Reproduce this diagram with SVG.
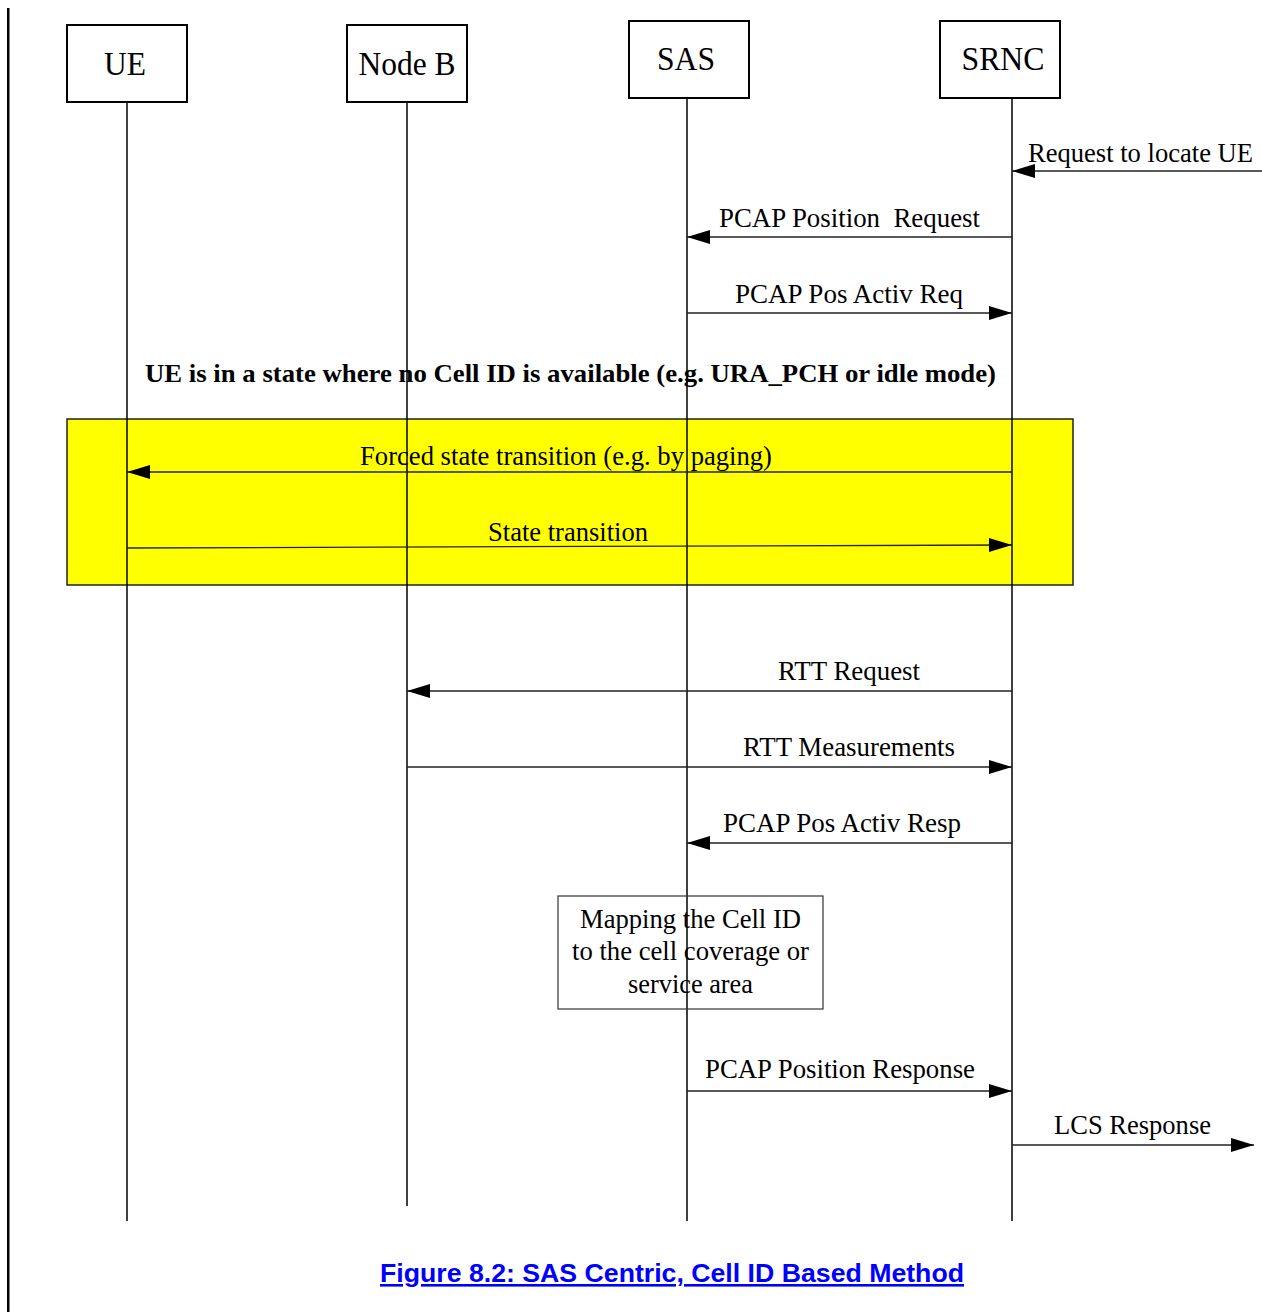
<svg xmlns="http://www.w3.org/2000/svg" width="1262" height="1312" viewBox="0 0 1262 1312">
  <style>
    .box { fill: #ffffff; stroke: #000000; stroke-width: 2; }
    .life { stroke: #000000; stroke-width: 1.5; fill: none; }
    .msg { stroke: #222222; stroke-width: 1.3; fill: none; marker-end: url(#arrow); }
    .lbl { font-family: "Liberation Serif", "Times New Roman", serif; font-size: 33px; fill: #000000; }
    .txt { font-family: "Liberation Serif", "Times New Roman", serif; font-size: 26.5px; fill: #000000; }
    .bold { font-family: "Liberation Serif", "Times New Roman", serif; font-size: 26px; font-weight: bold; fill: #000000; }
    .cap { font-family: "Liberation Sans", Arial, sans-serif; font-size: 26px; font-weight: bold; fill: #0000ff; }
  </style>
  <defs>
    <marker id="arrow" markerUnits="userSpaceOnUse" markerWidth="24" markerHeight="16" refX="23" refY="7" orient="auto">
      <path d="M0,0 L23,7 L0,14 z" fill="#000000"/>
    </marker>
  </defs>

  <rect width="1262" height="1312" fill="#ffffff"/>

  <!-- page margin bar -->
  <rect x="7" y="8" width="2.5" height="1304" fill="#000000"/>

  <!-- highlighted region for the state transition -->
  <rect id="transition-area" x="67" y="419" width="1006" height="166" fill="#ffff00" stroke="#222222" stroke-width="1.5"/>

  <!-- lifelines -->
  <g id="lifelines">
    <line class="life" x1="127" y1="102" x2="127" y2="1221"/>
    <line class="life" x1="407" y1="102" x2="407" y2="1206"/>
    <line class="life" x1="687" y1="98" x2="687" y2="1221"/>
    <line class="life" x1="1012" y1="98" x2="1012" y2="1221"/>
  </g>

  <!-- entities -->
  <g id="ue">
    <rect class="box" x="67" y="25" width="120" height="77"/>
    <text class="lbl" x="125" y="75" text-anchor="middle" textLength="42" lengthAdjust="spacingAndGlyphs">UE</text>
  </g>
  <g id="nodeb">
    <rect class="box" x="347" y="25" width="120" height="77"/>
    <text class="lbl" x="407" y="75" text-anchor="middle" textLength="97" lengthAdjust="spacingAndGlyphs">Node B</text>
  </g>
  <g id="sas">
    <rect class="box" x="629" y="21" width="120" height="77"/>
    <text class="lbl" x="686" y="70" text-anchor="middle" textLength="58" lengthAdjust="spacingAndGlyphs">SAS</text>
  </g>
  <g id="srnc">
    <rect class="box" x="940" y="21" width="120" height="77"/>
    <text class="lbl" x="1003" y="70" text-anchor="middle" textLength="83" lengthAdjust="spacingAndGlyphs">SRNC</text>
  </g>

  <!-- messages -->
  <g id="connectors">
    <line class="msg" x1="1262" y1="171" x2="1012" y2="171"/>
    <line class="msg" x1="1012" y1="237" x2="687" y2="237"/>
    <line class="msg" x1="687" y1="313" x2="1012" y2="313"/>
    <line class="msg" x1="1012" y1="472" x2="127" y2="472"/>
    <line class="msg" x1="127" y1="548" x2="1012" y2="545"/>
    <line class="msg" x1="1012" y1="691" x2="407" y2="691"/>
    <line class="msg" x1="407" y1="767" x2="1012" y2="767"/>
    <line class="msg" x1="1012" y1="843" x2="687" y2="843"/>
    <line class="msg" x1="687" y1="1091" x2="1012" y2="1091"/>
    <line class="msg" x1="1012" y1="1145" x2="1254" y2="1145"/>
  </g>

  <g id="message-labels">
    <text class="txt" x="1028" y="162" textLength="225" lengthAdjust="spacingAndGlyphs">Request to locate UE</text>
    <text class="txt" x="719" y="227" textLength="261" lengthAdjust="spacingAndGlyphs" xml:space="preserve">PCAP Position  Request</text>
    <text class="txt" x="735" y="303" textLength="228" lengthAdjust="spacingAndGlyphs">PCAP Pos Activ Req</text>
    <text class="bold" x="145" y="382" textLength="851" lengthAdjust="spacingAndGlyphs">UE is in a state where no Cell ID is available (e.g. URA_PCH or idle mode)</text>
    <text class="txt" x="360" y="465" textLength="412" lengthAdjust="spacingAndGlyphs">Forced state transition (e.g. by paging)</text>
    <text class="txt" x="488" y="541" textLength="160" lengthAdjust="spacingAndGlyphs">State transition</text>
    <text class="txt" x="778" y="680" textLength="142" lengthAdjust="spacingAndGlyphs">RTT Request</text>
    <text class="txt" x="743" y="756" textLength="212" lengthAdjust="spacingAndGlyphs">RTT Measurements</text>
    <text class="txt" x="723" y="832" textLength="238" lengthAdjust="spacingAndGlyphs">PCAP Pos Activ Resp</text>
    <text class="txt" x="705" y="1078" textLength="270" lengthAdjust="spacingAndGlyphs">PCAP Position Response</text>
    <text class="txt" x="1054" y="1134" textLength="157" lengthAdjust="spacingAndGlyphs">LCS Response</text>
  </g>

  <!-- processing step at the SAS -->
  <g id="mapping">
    <rect x="558" y="896" width="265" height="113" fill="none" stroke="#333333" stroke-width="1.2"/>
    <text class="txt" x="580" y="928" textLength="221" lengthAdjust="spacingAndGlyphs">Mapping the Cell ID</text>
    <text class="txt" x="572" y="960" textLength="237" lengthAdjust="spacingAndGlyphs">to the cell coverage or</text>
    <text class="txt" x="628" y="993" textLength="125" lengthAdjust="spacingAndGlyphs">service area</text>
  </g>

  <!-- caption -->
  <text class="cap" x="380" y="1282" textLength="584" lengthAdjust="spacingAndGlyphs" text-decoration="underline">Figure 8.2: SAS Centric, Cell ID Based Method</text>
</svg>
